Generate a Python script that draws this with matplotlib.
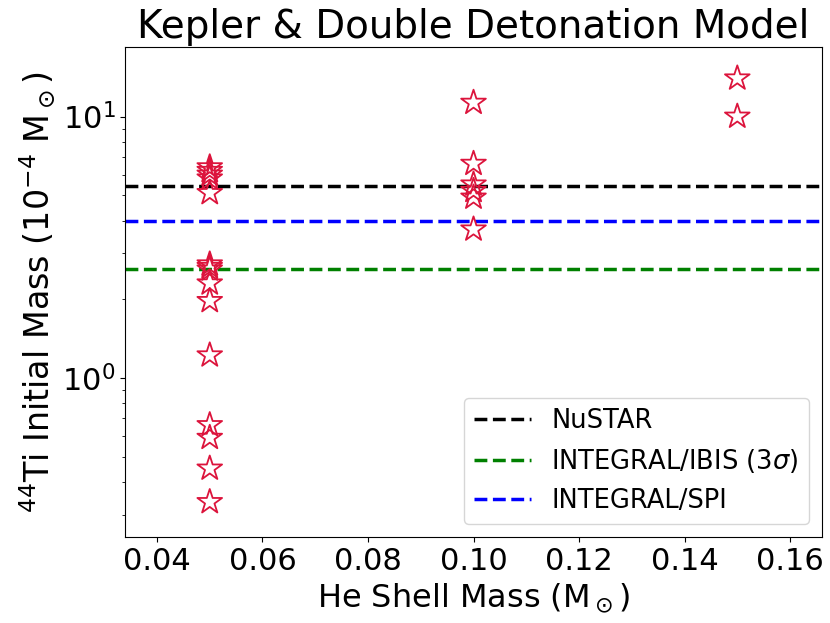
import matplotlib
matplotlib.use("Agg")
import matplotlib.pyplot as plt

# He shell mass (Msun) and 44Ti yield (1e-4 Msun) for each model
he_shell = [0.05] * 15 + [0.10] * 6 + [0.15] * 2
ti44 = [6.4, 6.2, 6.0, 5.8, 5.1, 2.72, 2.66, 2.6, 2.3, 1.97, 1.22, 0.66, 0.59, 0.45, 0.335,
        11.3, 6.6, 5.5, 5.2, 4.9, 3.7,
        14.0, 10.0]

# observational limits
obs_names = ['NuSTAR', r'INTEGRAL/IBIS (3$\sigma$)', 'INTEGRAL/SPI']
obs_values = [5.4, 2.6, 4.0]
obs_colors = ['black', 'green', 'blue']

plt.rcParams['font.family'] = ['DejaVu Sans']

fig = plt.figure(figsize=(8.3, 6.23), dpi=100)
ax = fig.add_axes([0.151, 0.138, 0.839, 0.787])

ax.scatter(he_shell, ti44, marker='*', s=350, facecolors='none',
           edgecolors='crimson', linewidths=1.3, zorder=3)

for name, val, col in zip(obs_names, obs_values, obs_colors):
    ax.axhline(val, color=col, linestyle='--', linewidth=2.5, label=name)

ax.set_yscale('log')
ax.set_xlim(0.034, 0.166)
ax.set_ylim(0.246, 18.5)
ax.set_xticks([0.04, 0.06, 0.08, 0.10, 0.12, 0.14, 0.16])

ax.tick_params(axis='both', which='major', labelsize=22)
ax.set_xlabel(r'He Shell Mass (M$_\odot$)', fontsize=23)
ax.set_ylabel(r'$^{44}$Ti Initial Mass (10$^{-4}$ M$_\odot$)', fontsize=24)
ax.set_title('Kepler & Double Detonation Model', fontsize=28)

ax.legend(loc='lower right', fontsize=18.5, handlelength=2.2)

fig.savefig('out.png', dpi=100)
